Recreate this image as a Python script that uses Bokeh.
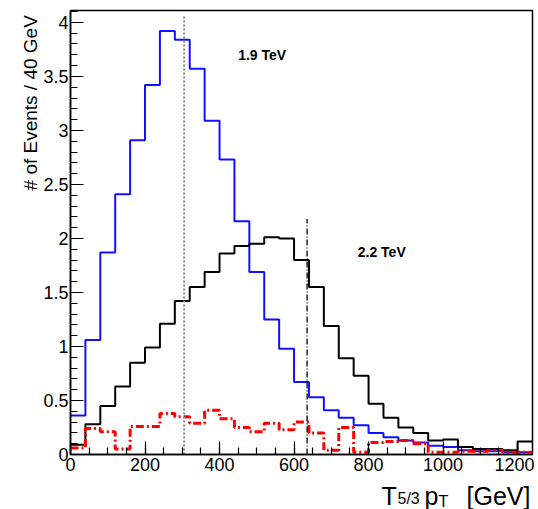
import math
from bokeh.plotting import figure
from bokeh.models import Range1d, SingleIntervalTicker, NumeralTickFormatter, Label
from bokeh.layouts import row, column
from bokeh.embed import file_html
from bokeh.resources import INLINE

# ---- data ----
bin_edges = list(range(0, 1241, 40))  # 31 bins of 40 GeV

tev19 = [0.36, 1.06, 1.87, 2.41, 2.91, 3.42, 3.92, 3.84, 3.57, 3.09, 2.73, 2.16,
         1.69, 1.25, 0.98, 0.67, 0.53, 0.41, 0.34, 0.27, 0.20, 0.16, 0.13, 0.11,
         0.08, 0.07, 0.04, 0.03, 0.03, 0.02, 0.02]
tev22 = [0.09, 0.28, 0.45, 0.63, 0.85, 0.99, 1.21, 1.42, 1.55, 1.69, 1.86, 1.93,
         1.95, 2.01, 2.00, 1.80, 1.55, 1.19, 0.89, 0.73, 0.47, 0.34, 0.25, 0.20,
         0.13, 0.14, 0.07, 0.05, 0.05, 0.04, 0.12]
bkg = [0.06, 0.24, 0.21, 0.05, 0.26, 0.26, 0.38, 0.35, 0.29, 0.41, 0.33, 0.25,
       0.21, 0.29, 0.23, 0.30, 0.20, 0.04, 0.25, 0.02, 0.11, 0.12, 0.13, 0.10,
       0.02, 0.02, 0.03, 0.03, 0.04, 0.02, 0.02]

mark_x = [305, 635]
mark_top = [4.06, 2.18]
mark_text = ["1.9 TeV", "2.2 TeV"]
mark_text_x = [450, 771]
mark_text_y = [3.70, 1.87]

y_title = "# of Events / 40 GeV"

FONT = "Liberation Sans"


def blank(width, height):
    f = figure(width=width, height=height, x_range=Range1d(0, width), y_range=Range1d(0, height),
               output_backend="svg", toolbar_location=None,
               min_border_left=0, min_border_right=0, min_border_top=0, min_border_bottom=0)
    f.axis.visible = False
    f.grid.visible = False
    f.outline_line_color = None
    f.background_fill_color = "white"
    f.border_fill_color = "white"
    return f


p = figure(width=494, height=478, x_range=Range1d(0, 1240), y_range=Range1d(0, 4.11),
           output_backend="svg", toolbar_location=None,
           min_border_left=28, min_border_right=2, min_border_top=10, min_border_bottom=24)
p.background_fill_color = "white"
p.border_fill_color = "white"
p.outline_line_color = "black"
p.outline_line_width = 1.5
p.xgrid.visible = False
p.ygrid.visible = False

for ax in (p.xaxis[0], p.yaxis[0]):
    ax.axis_line_color = "black"
    ax.axis_line_width = 1.5
    ax.major_tick_in = 13
    ax.major_tick_out = 0
    ax.minor_tick_in = 7
    ax.minor_tick_out = 0
    ax.major_tick_line_width = 1.2
    ax.minor_tick_line_width = 1.2
    ax.major_label_text_font = FONT
    ax.major_label_text_font_size = "18px"
    ax.major_label_text_color = "black"

p.xaxis[0].ticker = SingleIntervalTicker(interval=200, num_minor_ticks=4)
p.yaxis[0].ticker = SingleIntervalTicker(interval=0.5, num_minor_ticks=5)
p.yaxis[0].formatter = NumeralTickFormatter(format="0.[0]")
p.xaxis[0].major_label_standoff = 3
p.yaxis[0].major_label_standoff = 2


def steps(vals):
    return bin_edges, list(vals) + [vals[-1]]


x, y = steps(tev19)
p.step(x, y, mode="after", line_color="#1010ff", line_width=2)
x, y = steps(tev22)
p.step(x, y, mode="after", line_color="black", line_width=2)
x, y = steps(bkg)
p.step(x, y, mode="after", line_color="#ff0000", line_width=3, line_dash="8 3 2 3")

p.segment(x0=[mark_x[0]], y0=[0], x1=[mark_x[0]], y1=[mark_top[0]],
          line_color="#888888", line_width=2, line_dash="2 2")
p.segment(x0=[mark_x[1]], y0=[0], x1=[mark_x[1]], y1=[mark_top[1]],
          line_color="black", line_width=1.3, line_dash="6 2 1 2")

for t, tx, ty in zip(mark_text, mark_text_x, mark_text_y):
    p.add_layout(Label(x=tx, y=ty, text=t, text_font=FONT, text_font_size="14px",
                       text_font_style="bold", text_baseline="middle", text_color="black"))

# y-axis title panel (ROOT style: right-aligned at the top)
yt = blank(40, 478)
yt.add_layout(Label(x=30, y=473, text=y_title, angle=math.pi / 2,
                    text_align="right", text_baseline="middle", text_font=FONT,
                    text_font_size="19px", text_color="black"))

# x-axis title panel: T_{5/3} p_T  [GeV]
xt = blank(534, 31)
for txt, tx, ty, size in [("T", 381, 14, "25px"), ("5/3", 397, 11, "16px"),
                          ("p", 424, 14, "25px"), ("T", 438, 8, "16px"),
                          ("[GeV]", 466, 14, "25px")]:
    xt.add_layout(Label(x=tx, y=ty, text=txt, text_font=FONT, text_font_size=size,
                        text_baseline="alphabetic", text_color="black"))

layout = column(row(yt, p, spacing=0), xt, spacing=0)

open("out.html", "w").write(file_html(layout, INLINE))
